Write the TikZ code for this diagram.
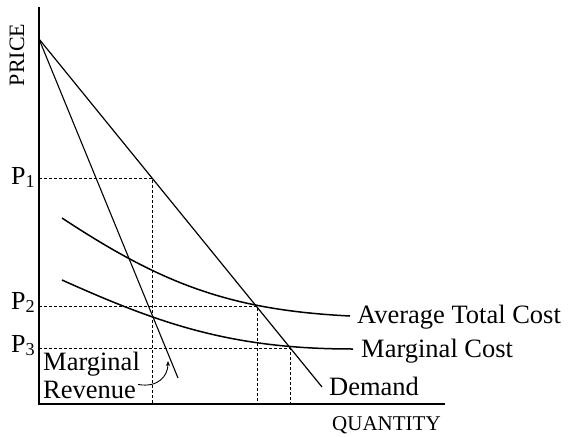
\documentclass[tikz,border=0pt]{standalone}
\usepackage{fontspec}
\setmainfont{Liberation Serif}
\usetikzlibrary{arrows.meta}
\begin{document}
\begin{tikzpicture}[x=1pt,y=-1pt,
  axis/.style={line width=1.3pt},
  curve/.style={line width=1.5pt},
  guide/.style={line width=0.9pt,dash pattern=on 3pt off 2pt},
  lbl/.style={inner sep=0pt,font=\fontsize{26.5}{29}\selectfont},
  plbl/.style={inner sep=0pt,font=\fontsize{26}{28}\selectfont}]
\useasboundingbox (0,0) rectangle (569,436);
% axes
\coordinate (ytop) at (39,7);
\coordinate (O) at (39,404);
\coordinate (xend) at (445,404);
\draw[axis] (ytop) -- (O) -- (xend);
% key points
\coordinate (A) at (39,39);
\coordinate (Dend) at (322,387);
\coordinate (MRend) at (178,378);
\coordinate (E1) at (152,178);
\coordinate (E2) at (257,306);
\coordinate (E3) at (290,348);
\coordinate (P1y) at (39,178);
\coordinate (P2y) at (39,306);
\coordinate (P3y) at (39,348);
\coordinate (Q1) at (152,404);
\coordinate (Q2) at (257,404);
\coordinate (Q3) at (290,404);
% dashed guides
\draw[guide] (P1y) -- (E1) -- (Q1);
\draw[guide] (P2y) -- (E2) -- (Q2);
\draw[guide] (P3y) -- (E3) -- (Q3);
% demand and marginal revenue
\draw[line width=1.2pt] (A) -- (Dend);
\draw[line width=1.1pt] (A) -- (MRend);
% cost curves
\coordinate (ATC0) at (62,218);
\coordinate (ATC1) at (350,316);
\draw[curve] (ATC0) .. controls (162,284) and (230,310) .. (ATC1);
\coordinate (MC0) at (62,280);
\coordinate (MC1) at (353,349);
\draw[curve] (MC0) .. controls (162,325) and (233,349) .. (MC1);
% labels
\node[lbl,anchor=base west] (atc) at (357,323) {Average Total Cost};
\node[lbl,anchor=base west] (mc) at (361,357) {Marginal Cost};
\node[lbl,anchor=base west] (dem) at (329,395) {Demand};
\node[lbl,anchor=base west] (mr1) at (43,370) {Marginal};
\node[lbl,anchor=base west] (mr2) at (43,398) {Revenue};
\node[inner sep=0pt,anchor=base west,font=\fontsize{21}{24}\selectfont] (qty) at (332,430) {QUANTITY};
\node[inner sep=0pt,rotate=90,font=\fontsize{22}{24}\selectfont] (price) at (17,55) {PRICE};
\node[plbl,anchor=base west] (p1) at (11,184) {P\textsubscript{1}};
\node[plbl,anchor=base west] (p2) at (11,309) {P\textsubscript{2}};
\node[plbl,anchor=base west] (p3) at (11,352) {P\textsubscript{3}};
% arrow from label to MR
\coordinate (mrpt) at (168,361);
\draw[line width=0.9pt,-{Stealth[length=5pt,width=4pt]}] (mr2.east) ++(2,-5) coordinate (mrs) .. controls (158,388) and (168,376) .. (mrpt);
\end{tikzpicture}
\end{document}
